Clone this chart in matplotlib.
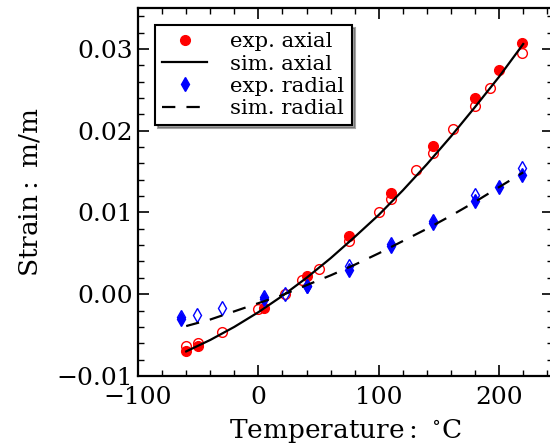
import matplotlib
matplotlib.use("Agg")
import matplotlib.pyplot as plt
from matplotlib.ticker import MultipleLocator

plt.rcParams['font.family'] = 'DejaVu Serif'
plt.rcParams['mathtext.fontset'] = 'dejavuserif'

# measured strains (filled = first run, open = repeat run)
ax_t_fill = [-60, -50, 5, 40, 75, 110, 145, 180, 200, 219]
ax_s_fill = [-0.0069, -0.0063, -0.0017, 0.0022, 0.0071, 0.0124, 0.0181, 0.0240, 0.0274, 0.0307]
ax_t_open = [-60, -50, -30, 0, 22, 36, 50, 75, 100, 110, 131, 145, 162, 180, 192, 219]
ax_s_open = [-0.0063, -0.0060, -0.0046, -0.0018, 0.0000, 0.0017, 0.0031, 0.0065, 0.0101,
             0.0117, 0.0152, 0.0173, 0.0202, 0.0230, 0.0252, 0.0295]

rad_t_fill = [-64, 5, 40, 75, 110, 145, 180, 200, 219]
rad_s_fill = [-0.0030, -0.0006, 0.0010, 0.0030, 0.0059, 0.0087, 0.0114, 0.0131, 0.0146]
rad_t_open = [-64, -51, -30, 5, 22, 40, 75, 110, 145, 180, 219]
rad_s_open = [-0.0028, -0.0025, -0.0017, -0.0004, 0.0000, 0.0010, 0.0035, 0.0061, 0.0090,
              0.0121, 0.0154]

# simulation results
sim_t = [-60, -40, -20, 0, 20, 40, 60, 80, 100, 120, 140, 160, 180, 200, 220]
sim_axial = [-0.0070, -0.0056, -0.0040, -0.0022, -0.0002, 0.0020, 0.0044, 0.0070, 0.0097,
             0.0127, 0.0159, 0.0193, 0.0229, 0.0266, 0.0306]
sim_radial = [-0.0039, -0.0031, -0.0021, -0.0011, -0.0001, 0.0011, 0.0023, 0.0036, 0.0050,
              0.0065, 0.0080, 0.0096, 0.0113, 0.0131, 0.0149]

fig = plt.figure(figsize=(5.5, 4.47), dpi=100)
ax = fig.add_axes([0.251, 0.159, 0.755, 0.823])

ax.plot(ax_t_fill, ax_s_fill, 'o', color='red', ms=7, mec='red', label='exp. axial')
ax.plot(ax_t_open, ax_s_open, 'o', mfc='none', mec='red', ms=7, mew=1.0)
ax.plot(sim_t, sim_axial, '-', color='black', lw=1.6, label='sim. axial')
ax.plot(rad_t_fill, rad_s_fill, 'd', color='blue', ms=7.5, label='exp. radial')
ax.plot(rad_t_open, rad_s_open, 'd', mfc='none', mec='blue', ms=7.5, mew=1.0)
ax.plot(sim_t, sim_radial, '--', color='black', lw=1.6, dashes=(6, 5), label='sim. radial')

ax.set_xlim(-100, 245)
ax.set_ylim(-0.01, 0.035)
ax.xaxis.set_major_locator(MultipleLocator(100))
ax.xaxis.set_minor_locator(MultipleLocator(20))
ax.yaxis.set_major_locator(MultipleLocator(0.01))
ax.yaxis.set_minor_locator(MultipleLocator(0.002))
ax.tick_params(which='both', direction='in', top=True, right=True, labelsize=18)
ax.tick_params(which='major', length=8, width=1.2)
ax.tick_params(which='minor', length=4, width=1.0)
ax.tick_params(axis='x', which='major', pad=7)
for s in ax.spines.values():
    s.set_linewidth(1.6)

ax.set_xlabel(r'Temperature$:$ $^{\circ}$C', fontsize=19, labelpad=6)
ax.set_ylabel(r'Strain$:$ m/m', fontsize=19, labelpad=10)

leg = ax.legend(loc='upper left', numpoints=1, fontsize=15.3, shadow=True, fancybox=False,
                handlelength=2.1, labelspacing=0.15, borderpad=0.35, handletextpad=1.1,
                borderaxespad=0.8)
leg.get_frame().set_edgecolor('black')
leg.get_frame().set_linewidth(1.5)

fig.savefig('out.png', dpi=100)
